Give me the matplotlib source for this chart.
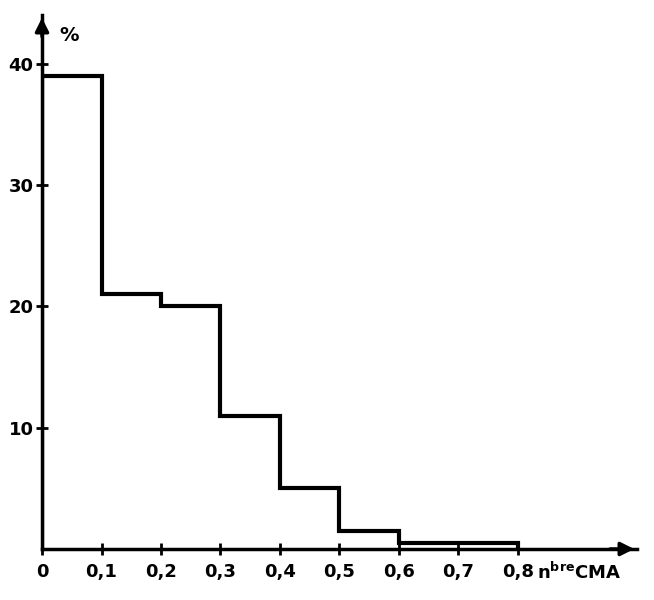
import matplotlib
matplotlib.use("Agg")
import matplotlib.pyplot as plt
import numpy as np

bin_edges = [0.0, 0.1, 0.2, 0.3, 0.4, 0.5, 0.6, 0.7, 0.8]
percent = [39, 21, 20, 11, 5, 1.5, 0.5, 0.5]
x_ticks = [0, 0.1, 0.2, 0.3, 0.4, 0.5, 0.6, 0.7, 0.8]
x_labels = ["0", "0,1", "0,2", "0,3", "0,4", "0,5", "0,6", "0,7", "0,8"]
y_ticks = [10, 20, 30, 40]
y_labels = ["10", "20", "30", "40"]

fig = plt.figure(figsize=(6.54, 6.0), dpi=100)
ax = fig.add_axes([42/654, 51/600, 595/654, 534/600])
ax.set_xlim(0, 1.0)
ax.set_ylim(0, 44)

ax.stairs(percent, bin_edges, color="black", linewidth=3.0, baseline=0)

for s in ["top", "right"]:
    ax.spines[s].set_visible(False)
for s in ["left", "bottom"]:
    ax.spines[s].set_linewidth(2.5)

# arrows
ax.annotate("", xy=(1.0, 0), xytext=(0.95, 0), xycoords="data",
            arrowprops=dict(arrowstyle="-|>", color="black", lw=2.5, mutation_scale=20))
ax.annotate("", xy=(0, 44), xytext=(0, 42), xycoords="data",
            arrowprops=dict(arrowstyle="-|>", color="black", lw=2.5, mutation_scale=20))

ax.set_xticks(x_ticks)
ax.set_xticklabels(x_labels, fontsize=13, fontweight="bold")
ax.set_yticks(y_ticks)
ax.set_yticklabels(y_labels, fontsize=13, fontweight="bold")
ax.tick_params(axis="both", direction="inout", length=8, width=2)
ax.tick_params(axis="x", pad=6)
ax.tick_params(axis="y", pad=2)

ax.text(0.03, 41.5, "%", fontsize=14, fontweight="bold", ha="left", va="bottom")
ax.text(0.832, -1.0, r"n$^{\mathbf{bre}}$CMA", fontsize=13, fontweight="bold",
        ha="left", va="top")

fig.savefig("out.png", dpi=100)
